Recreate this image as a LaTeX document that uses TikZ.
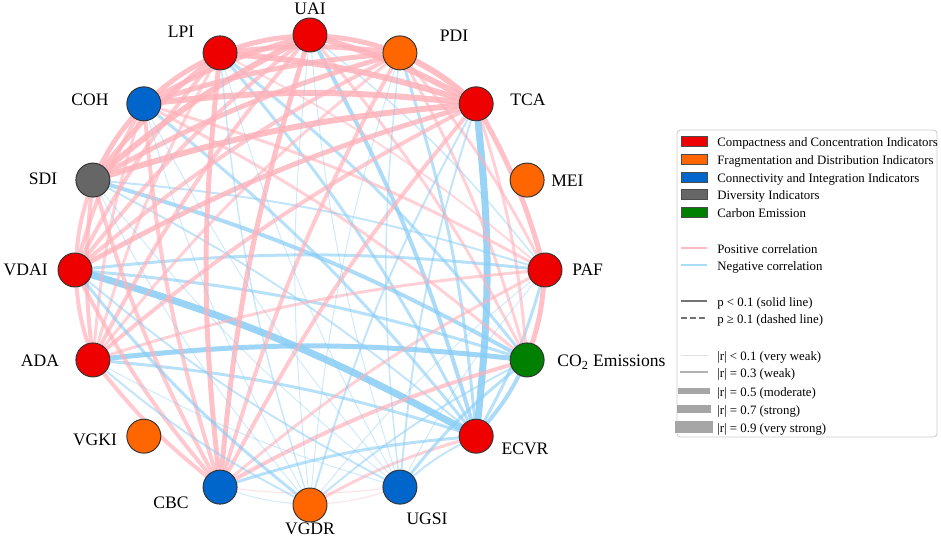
\documentclass[tikz,border=0pt]{standalone}
\usepackage{fontspec}
\setmainfont{Liberation Serif}
\usetikzlibrary{backgrounds}
\definecolor{cred}{HTML}{EE0000}
\definecolor{corange}{HTML}{FF6600}
\definecolor{cblue}{HTML}{0066CC}
\definecolor{cgray}{HTML}{666666}
\definecolor{cgreen}{HTML}{008000}
\definecolor{posline}{RGB}{255,178,186}
\definecolor{negline}{RGB}{135,204,245}

\begin{document}
\begin{tikzpicture}[x=0.02cm,y=-0.02cm,
    ind/.style={circle,draw=black!80,line width=0.55pt,minimum size=0.68cm,inner sep=0pt},
    lbl/.style={font=\fontsize{10}{12}\selectfont,inner sep=0pt,text height=0.66em,text depth=0pt},
    poscor/.style={draw=posline},
    negcor/.style={draw=negline},
    leg/.style={font=\fontsize{7.3}{8}\selectfont,anchor=west,inner sep=0pt,text height=0.66em,text depth=0pt}]
    \useasboundingbox (0,0) rectangle (941,538);
    \def\r{235}
    \def\px{0.567pt}
    % indicators on the circle
    \foreach \n/\ang/\c in {ecvr/315/cred, co2/337.5/cgreen, paf/0/cred, mei/22.5/corange,
            tca/45/cred, pdi/67.5/corange, uai/90/cred, lpi/112.5/cred, coh/135/cblue,
            sdi/157.5/cgray, vdai/180/cred, ada/202.5/cred, vgki/225/corange,
            cbc/247.5/cblue, vgdr/270/corange, ugsi/292.5/cblue}
        \node[ind,fill=\c] (\n) at ({310+\r*cos(\ang)},{270-\r*sin(\ang)}) {};
    \foreach \n/\x/\y/\a/\t in {uai/310/9/center/UAI, lpi/181/32/center/LPI, coh/90/100/center/COH,
            sdi/43/179/center/SDI, vdai/48/270/east/VDAI, ada/40/361/center/ADA,
            vgki/95/440/center/VGKI, cbc/171/503/center/CBC, vgdr/310/529/center/VGDR,
            ugsi/427/519/center/UGSI, ecvr/525/449/center/ECVR, co2/557/361/west/CO\textsubscript{2} Emissions,
            paf/572/270/west/PAF, mei/551/181/west/MEI, tca/528/100/center/TCA, pdi/454/36/center/PDI}
        \node[lbl,anchor=\a] (l\n) at (\x,\y) {\t};
    % correlations
    \begin{scope}[on background layer]
    \foreach \a/\b/\s/\w in {ecvr/co2/negcor/4, ecvr/paf/negcor/3, ecvr/tca/negcor/7, ecvr/pdi/negcor/3,
            ecvr/uai/negcor/4, ecvr/lpi/negcor/3, ecvr/coh/negcor/3, ecvr/sdi/negcor/2, ecvr/vdai/negcor/7,
            ecvr/ada/negcor/3, ecvr/cbc/negcor/3, ecvr/vgdr/poscor/3, ecvr/ugsi/negcor/2,
            co2/paf/poscor/5, co2/tca/poscor/3, co2/pdi/poscor/3, co2/uai/poscor/3, co2/lpi/negcor/3,
            co2/coh/poscor/3, co2/sdi/negcor/4, co2/vdai/negcor/3, co2/ada/negcor/5, co2/cbc/poscor/4,
            co2/vgdr/negcor/2, co2/ugsi/negcor/3,
            paf/tca/poscor/5, paf/pdi/poscor/3, paf/uai/negcor/1.5, paf/lpi/poscor/2, paf/coh/poscor/3,
            paf/sdi/negcor/2, paf/vdai/negcor/3, paf/ada/poscor/3, paf/cbc/poscor/3, paf/vgdr/negcor/1,
            paf/ugsi/negcor/1,
            tca/pdi/poscor/6, tca/uai/poscor/6, tca/lpi/poscor/6, tca/coh/poscor/6, tca/sdi/poscor/6,
            tca/vdai/poscor/5, tca/ada/poscor/4, tca/cbc/poscor/4, tca/vgdr/negcor/2, tca/ugsi/negcor/2,
            pdi/uai/poscor/5, pdi/lpi/poscor/5, pdi/coh/poscor/5, pdi/sdi/poscor/5, pdi/vdai/poscor/4,
            pdi/ada/poscor/3, pdi/cbc/poscor/4, pdi/vgdr/negcor/1, pdi/ugsi/negcor/1.5,
            uai/lpi/poscor/5, uai/coh/poscor/5, uai/sdi/poscor/6, uai/vdai/poscor/4, uai/ada/poscor/4,
            uai/cbc/poscor/5, uai/vgdr/negcor/1, uai/ugsi/negcor/1,
            lpi/coh/poscor/5, lpi/sdi/poscor/5, lpi/vdai/poscor/4, lpi/ada/poscor/3, lpi/cbc/poscor/5,
            lpi/vgdr/negcor/1.5, lpi/ugsi/negcor/1,
            coh/sdi/poscor/5, coh/vdai/poscor/4, coh/ada/poscor/3, coh/cbc/poscor/4, coh/vgdr/negcor/1,
            coh/ugsi/negcor/1,
            sdi/vdai/poscor/4, sdi/ada/poscor/4, sdi/cbc/poscor/4, sdi/vgdr/negcor/1, sdi/ugsi/negcor/1,
            vdai/ada/poscor/4, vdai/cbc/poscor/4, vdai/vgdr/negcor/3, vdai/ugsi/negcor/2,
            ada/cbc/poscor/4, ada/vgdr/negcor/2, ada/ugsi/negcor/1,
            cbc/vgdr/negcor/1, cbc/ugsi/poscor/1,
            vgdr/ugsi/poscor/1}{
        \pgfmathsetmacro\op{min(0.85,0.3+0.1*\w)}
        \draw[\s,line width=\w*\px,draw opacity=\op] (\a) to[bend right=6] (\b);
    }
    \end{scope}
    % legend
    \draw[rounded corners=2pt,draw=black!20,fill=white,line width=0.5pt] (677,130) rectangle (937,437);
    \foreach \y/\c/\t in {141/cred/Compactness and Concentration Indicators,
            159/corange/Fragmentation and Distribution Indicators,
            177/cblue/Connectivity and Integration Indicators,
            194/cgray/Diversity Indicators, 212/cgreen/Carbon Emission}{
        \filldraw[fill=\c,draw=black!70,line width=0.4pt] (681,\y-5) rectangle (707,\y+5);
        \node[leg] (key\c) at (717,\y) {\t};
    }
    \draw[poscor,line width=2.5*\px,draw opacity=0.85] (681,248) -- (707,248);
    \node[leg] (keypos) at (717,248) {Positive correlation};
    \draw[negcor,line width=2.5*\px,draw opacity=0.7] (681,265) -- (707,265);
    \node[leg] (keyneg) at (717,265) {Negative correlation};
    \draw[black!55,line width=1.5*\px] (681,301) -- (707,301);
    \node[leg] (keysolid) at (717,301) {p < 0.1 (solid line)};
    \draw[black!55,line width=1.5*\px,dash pattern=on 3.4pt off 1.7pt] (681,318) -- (707,318);
    \node[leg] (keydash) at (717,318) {p ≥ 0.1 (dashed line)};
    \foreach \y/\w/\g/\t in {355/1/12/{|r| < 0.1 (very weak)}, 372/2/30/{|r| = 0.3 (weak)},
            391/6.5/35/{|r| = 0.5 (moderate)}, 409/9/35/{|r| = 0.7 (strong)},
            427/11.7/35/{|r| = 0.9 (very strong)}}{
        \draw[black!\g,line width=\w*\px,line cap=rect] (681,\y) -- (707,\y);
        \node[leg] (keyr\y) at (717,\y) {\t};
    }
\end{tikzpicture}
\end{document}
